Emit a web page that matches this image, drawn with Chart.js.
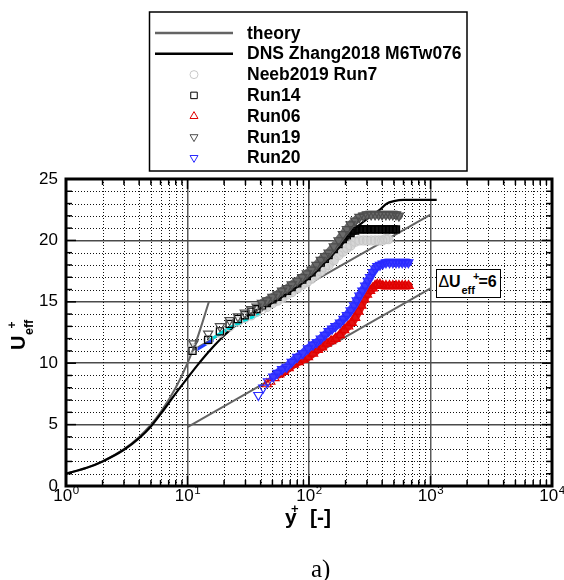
<!DOCTYPE html>
<html>
<head>
<meta charset="utf-8">
<script src="https://cdn.jsdelivr.net/npm/chart.js@4.4.0/dist/chart.umd.min.js"></script>
<style>
  body { margin: 0; background: #fff; }
  #wrap { position: relative; width: 564px; height: 580px; overflow: hidden;
          font-family: "Liberation Sans", Arial, sans-serif; color: #000; }
  #wrap canvas { position: absolute; left: 0; top: 0; }
  .t { position: absolute; white-space: nowrap; line-height: 1; font-weight: bold; }
  #ytitle { position: absolute; left: 5px; top: 350px; width: 40px; height: 34px;
            transform-origin: 0 0; transform: rotate(-90deg); }
  #dubox { position: absolute; left: 436px; top: 269px; width: 65px; height: 29px;
           box-sizing: border-box; border: 1.5px solid #000; background: #fff; }
  #caption { position: absolute; left: 311px; top: 556px; font: 25px "Liberation Serif", "Times New Roman", serif; line-height: 1; }
</style>
</head>
<body>
<div id="wrap">
  <canvas id="chart" width="564" height="580"></canvas>

  <div id="ytitle">
    <span class="t" style="left:0;top:3.4px;font-size:20px">U</span>
    <span class="t" style="left:15px;top:17.9px;font-size:12.5px">eff</span>
    <span class="t" style="left:21.5px;top:1.3px;font-size:12px">+</span>
  </div>

  <span class="t" style="left:285px;top:506px;font-size:21px">y</span>
  <span class="t" style="left:291px;top:502px;font-size:13px">+</span>
  <span class="t" style="left:310px;top:506px;font-size:21px">[-]</span>

  <div id="dubox">
    <span class="t" style="left:1.5px;top:4.3px;font-size:16px;font-weight:normal">Δ</span>
    <span class="t" style="left:12px;top:4.3px;font-size:16px">U</span>
    <span class="t" style="left:24.5px;top:15.2px;font-size:11px">eff</span>
    <span class="t" style="left:36px;top:0.9px;font-size:11px">+</span>
    <span class="t" style="left:41.5px;top:4.3px;font-size:16px">=6</span>
  </div>

  <div id="caption">a)</div>
</div>

<script>
// axis ticks
const xMajorTicks = [1, 10, 100, 1000, 10000];
const xTickExponents = ['0', '1', '2', '3', '4'];
const yMajorTicks = [0, 5, 10, 15, 20, 25];

// theory: viscous sublayer, log law and log law shifted by dU+ = 6
const sublayerYPlus = [1, 1.5, 2, 3, 4, 5, 6, 8, 10, 12, 15];
const sublayerU     = [1, 1.5, 2, 3, 4, 5, 6, 8, 10, 12, 15];
const logLawYPlus   = [11, 1000];
const logLawU       = [11.05, 22.1];
const shiftedYPlus  = [10, 1000];
const shiftedU      = [4.8, 16.1];

// DNS Zhang2018 M6Tw076
const dnsYPlus = [1, 1.5, 2, 3, 4, 5, 6, 7, 8, 10, 12, 14, 16, 20, 25, 30, 40, 50, 70, 100,
                  150, 200, 250, 316, 384, 436, 500, 600, 800, 1125];
const dnsU     = [1.0, 1.5, 2.0, 2.95, 3.9, 4.85, 5.85, 6.75, 7.55, 8.8, 9.8, 10.6, 11.25, 12.25, 13.1, 13.7, 14.55, 15.2, 16.1, 17.2,
                  18.7, 20.1, 21.1, 21.9, 22.5, 23.0, 23.2, 23.3, 23.3, 23.3];

// Neeb2019 Run7
const run7YPlus = [11, 14.8, 18.5, 22.2, 26, 29.6, 33.3, 37, 41, 45,
                   50, 55, 60, 66, 72, 80, 88, 96, 105, 115,
                   125, 135, 145, 160, 175, 190, 205, 220, 240, 260,
                   280, 300, 325, 350, 375, 400, 425, 450];
const run7U     = [11.2, 11.9, 12.5, 13.0, 13.4, 13.7, 13.9, 14.2, 14.4, 14.6,
                   14.9, 15.1, 15.3, 15.6, 15.8, 16.1, 16.4, 16.6, 16.9, 17.2,
                   17.5, 17.8, 18.0, 18.4, 18.8, 19.1, 19.4, 19.6, 19.9, 20.0,
                   20.0, 20.0, 20.0, 20.0, 20.0, 20.0, 20.1, 20.1];

// Run14
const run14YPlus = [11, 14.8, 18.5, 22.2, 26, 29.6, 33.3, 37, 41, 45,
                    50, 55, 60, 66, 72, 80, 88, 96, 105, 115,
                    125, 135, 145, 160, 175, 190, 205, 220, 240, 260,
                    280, 300, 325, 350, 375, 400, 430, 460, 490, 520];
const run14U     = [11.0, 11.9, 12.6, 13.2, 13.6, 13.9, 14.2, 14.4, 14.7, 14.9,
                    15.2, 15.4, 15.7, 15.9, 16.2, 16.5, 16.8, 17.1, 17.4, 17.8,
                    18.2, 18.5, 18.8, 19.3, 19.7, 20.1, 20.4, 20.6, 20.8, 20.9,
                    20.9, 20.9, 20.9, 20.9, 20.9, 20.9, 20.9, 20.9, 20.9, 20.9];

// Run06
const run06YPlus = [45, 48, 52, 57, 62, 68, 75, 82, 90, 98,
                    108, 118, 128, 140, 152, 165, 180, 195, 210, 225,
                    240, 255, 270, 285, 300, 318, 335, 350, 365, 384,
                    405, 430, 460, 490, 520, 550, 585, 620, 660];
const run06U     = [8.3, 8.5, 8.8, 9.1, 9.3, 9.6, 9.9, 10.1, 10.3, 10.5,
                    10.8, 11.1, 11.3, 11.6, 11.8, 12.0, 12.3, 12.7, 13.0, 13.3,
                    13.7, 14.2, 14.7, 15.2, 15.6, 15.9, 16.1, 16.3, 16.4, 16.4,
                    16.3, 16.3, 16.3, 16.3, 16.3, 16.3, 16.3, 16.3, 16.3];

// Run19
const run19YPlus = [11.2, 14.8, 18.5, 22.2, 26, 29.6, 33.3, 37, 41, 45,
                    50, 55, 60, 66, 72, 80, 88, 96, 105, 115,
                    125, 135, 145, 160, 175, 190, 205, 220, 240, 260,
                    280, 300, 325, 350, 375, 400, 430, 460, 490, 520, 550];
const run19U     = [11.6, 12.4, 13.0, 13.5, 13.8, 14.1, 14.4, 14.6, 14.9, 15.1,
                    15.4, 15.6, 15.9, 16.1, 16.4, 16.7, 17.0, 17.3, 17.6, 18.0,
                    18.4, 18.7, 19.0, 19.5, 20.0, 20.5, 20.9, 21.3, 21.6, 21.9,
                    22.0, 22.1, 22.1, 22.1, 22.1, 22.1, 22.1, 22.1, 22.1, 22.1, 22.0];

// Run20
const run20YPlus = [38.3, 42, 46, 50.8, 55, 60, 65.5, 72, 80, 89,
                    98, 108, 116, 125, 135, 145, 155, 165, 180, 192,
                    205, 220, 235, 247, 260, 275, 290, 305, 318, 335,
                    350, 365, 384, 405, 430, 460, 490, 520, 550, 585, 620, 657];
const run20U     = [7.4, 8.0, 8.5, 8.9, 9.2, 9.5, 9.7, 10.1, 10.5, 10.8,
                    11.2, 11.5, 11.7, 12.0, 12.3, 12.6, 12.8, 13.0, 13.3, 13.6,
                    13.9, 14.3, 14.7, 15.1, 15.5, 15.9, 16.3, 16.7, 17.0, 17.4,
                    17.7, 17.9, 18.0, 18.1, 18.2, 18.2, 18.2, 18.2, 18.2, 18.2, 18.2, 18.2];

// short near-wall traces (not in legend)
const blueNearYPlus = [11.9, 16.3];
const blueNearU     = [11.1, 11.9];
const cyanNearYPlus = [15.3, 22.4, 30, 39.5];
const cyanNearU     = [11.9, 12.9, 13.5, 14.0];

const pts = (xs, ys) => xs.map((x, i) => ({ x: x, y: ys[i] }));

Chart.defaults.font.family = '"Liberation Sans", Arial, sans-serif';
Chart.defaults.color = '#000';

function lineSet(label, xs, ys, color, width, order) {
  return {
    label: label, data: pts(xs, ys), showLine: true, pointRadius: 0,
    borderColor: color, borderWidth: width, cubicInterpolationMode: 'monotone',
    order: order
  };
}
function markerSet(label, xs, ys, color, style, rotation, radius, order) {
  return {
    label: label, data: pts(xs, ys), showLine: false,
    pointStyle: style, rotation: rotation, pointRadius: radius,
    pointBorderColor: color, pointBackgroundColor: 'rgba(0,0,0,0)', pointBorderWidth: 1.2,
    borderColor: color, order: order
  };
}
// the dense part of a measured profile, where the symbols merge into a band
function bandSet(xs, ys, from, color, width, order) {
  const d = lineSet('', xs.slice(from), ys.slice(from), color, width, order);
  d.borderCapStyle = 'round';
  d.borderJoinStyle = 'round';
  return d;
}

function drawMarker(ctx, style, rotation, x, y, r) {
  ctx.beginPath();
  if (style === 'circle') {
    ctx.arc(x, y, r, 0, Math.PI * 2);
  } else if (style === 'rect') {
    const s = r * Math.SQRT1_2;
    ctx.rect(x - s, y - s, 2 * s, 2 * s);
  } else {
    const d = rotation === 180 ? -1 : 1;
    ctx.moveTo(x, y - d * r);
    ctx.lineTo(x + r * 0.866, y + d * r * 0.5);
    ctx.lineTo(x - r * 0.866, y + d * r * 0.5);
    ctx.closePath();
  }
  ctx.stroke();
}

function seg(ctx, x1, y1, x2, y2) {
  ctx.beginPath(); ctx.moveTo(x1, y1); ctx.lineTo(x2, y2); ctx.stroke();
}

// minor dotted grid, inner ticks, frame, decade labels and boxed legend
const frame = {
  id: 'frame',
  beforeDatasetsDraw(chart) {
    const { ctx, chartArea: a, scales: { x, y } } = chart;
    ctx.save();
    ctx.strokeStyle = '#111';
    ctx.lineWidth = 1;
    ctx.setLineDash([1, 2]);
    for (let d = 1; d < 10000; d *= 10) {
      for (let k = 2; k <= 9; k++) {
        const px = Math.round(x.getPixelForValue(d * k)) + 0.5;
        seg(ctx, px, a.top, px, a.bottom);
      }
    }
    for (let v = 1; v < 25; v++) {
      if (v % 5 === 0) continue;
      const py = Math.round(y.getPixelForValue(v)) + 0.5;
      seg(ctx, a.left, py, a.right, py);
    }
    ctx.restore();
  },
  afterDatasetsDraw(chart) {
    const { ctx, chartArea: a, scales: { x, y } } = chart;
    ctx.save();
    ctx.strokeStyle = '#000';
    ctx.lineWidth = 1.5;
    for (let d = 1; d <= 10000; d *= 10) {
      for (let k = 1; k <= 9; k++) {
        const v = d * k;
        if (v > 10000) break;
        const px = x.getPixelForValue(v), len = k === 1 ? 10 : 6;
        seg(ctx, px, a.bottom, px, a.bottom - len);
        seg(ctx, px, a.top, px, a.top + len);
      }
    }
    for (let v = 0; v <= 25; v++) {
      const py = y.getPixelForValue(v), len = v % 5 === 0 ? 10 : 6;
      seg(ctx, a.left, py, a.left + len, py);
      seg(ctx, a.right, py, a.right - len, py);
    }
    ctx.lineWidth = 3;
    ctx.strokeRect(a.left, a.top, a.right - a.left, a.bottom - a.top);

    // decade labels 10^n
    ctx.fillStyle = '#000';
    ctx.textBaseline = 'alphabetic';
    xMajorTicks.forEach((v, i) => {
      const px = x.getPixelForValue(v);
      ctx.font = '17px "Liberation Sans", Arial, sans-serif';
      const w1 = ctx.measureText('10').width;
      ctx.font = '11.5px "Liberation Sans", Arial, sans-serif';
      const w2 = ctx.measureText(xTickExponents[i]).width;
      const left = px - (w1 + w2) / 2;
      ctx.fillText(xTickExponents[i], left + w1 + 0.5, a.bottom + 8);
      ctx.font = '17px "Liberation Sans", Arial, sans-serif';
      ctx.fillText('10', left, a.bottom + 14.5);
    });
    ctx.restore();
  },
  afterDraw(chart) {
    const ctx = chart.ctx;
    ctx.save();
    ctx.strokeStyle = '#000';
    ctx.lineWidth = 1.5;
    ctx.strokeRect(149.5, 12, 317.5, 159);
    ctx.font = 'bold 17.5px "Liberation Sans", Arial, sans-serif';
    ctx.fillStyle = '#000';
    ctx.textBaseline = 'alphabetic';
    chart.data.datasets.filter(d => d.label).forEach((d, i) => {
      const base = 38.5 + 20.8 * i, mid = base - 5.5;
      if (d.showLine) {
        ctx.strokeStyle = d.borderColor;
        ctx.lineWidth = 2.5;
        seg(ctx, 155, mid, 233, mid);
      } else {
        ctx.strokeStyle = d.pointBorderColor;
        ctx.lineWidth = 1;
        drawMarker(ctx, d.pointStyle, d.rotation, 194, mid, d.pointStyle === 'circle' ? 4 : 4.6);
      }
      ctx.fillText(d.label, 247, base);
    });
    ctx.restore();
  }
};

const gray = '#646464';

new Chart(document.getElementById('chart'), {
  type: 'scatter',
  data: {
    datasets: [
      lineSet('theory', sublayerYPlus, sublayerU, gray, 2, 20),
      lineSet('DNS Zhang2018 M6Tw076', dnsYPlus, dnsU, '#000', 2.2, 18),
      markerSet('Neeb2019 Run7', run7YPlus, run7U, '#c8c8c8', 'circle', 0, 4.6, 14),
      markerSet('Run14', run14YPlus, run14U, '#000', 'rect', 0, 5, 11),
      markerSet('Run06', run06YPlus, run06U, '#e00000', 'triangle', 0, 5.3, 7),
      markerSet('Run19', run19YPlus, run19U, '#4e4e4e', 'triangle', 180, 5.3, 5),
      markerSet('Run20', run20YPlus, run20U, '#2a2aff', 'triangle', 180, 5.3, 1),
      lineSet('', logLawYPlus, logLawU, gray, 2, 20),
      lineSet('', shiftedYPlus, shiftedU, gray, 2, 20),
      lineSet('', blueNearYPlus, blueNearU, '#1e3cff', 3, 16),
      lineSet('', cyanNearYPlus, cyanNearU, '#00dcdc', 3, 16),
      bandSet(run7YPlus, run7U, 9, '#d6d6d6', 8, 15),
      bandSet(run14YPlus, run14U, 9, '#111', 8, 12),
      bandSet(run06YPlus, run06U, 3, '#e21010', 8, 8),
      bandSet(run19YPlus, run19U, 8, '#6a6a6a', 8, 6),
      bandSet(run20YPlus, run20U, 3, '#3c3cff', 8, 2)
    ]
  },
  options: {
    responsive: false,
    animation: false,
    events: [],
    layout: { padding: { top: 179, right: 12, left: 0, bottom: 0 } },
    plugins: { legend: { display: false }, tooltip: { enabled: false } },
    scales: {
      x: {
        type: 'logarithmic', min: 1, max: 10000,
        afterBuildTicks: s => { s.ticks = xMajorTicks.map(v => ({ value: v })); },
        afterFit: s => { s.height = 94; },
        ticks: { display: false },
        grid: { color: '#5a5a5a', lineWidth: 1.5, drawTicks: false },
        border: { display: false }
      },
      y: {
        type: 'linear', min: 0, max: 25,
        afterBuildTicks: s => { s.ticks = yMajorTicks.map(v => ({ value: v })); },
        afterFit: s => { s.width = 66; },
        ticks: { padding: 8, font: { size: 17 } },
        grid: { color: '#4a4a4a', lineWidth: 1.5, drawTicks: false },
        border: { display: false }
      }
    }
  },
  plugins: [frame]
});
</script>
</body>
</html>
